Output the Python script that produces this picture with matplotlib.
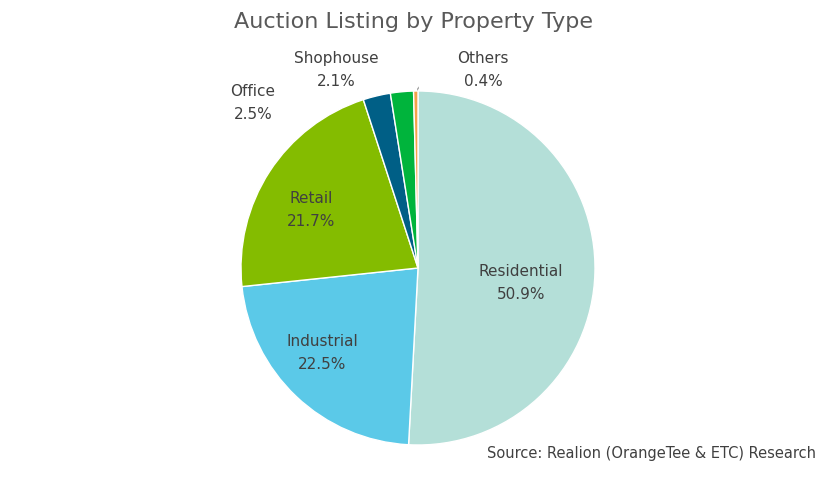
import matplotlib
matplotlib.use("Agg")
import matplotlib.pyplot as plt

categories = ["Residential", "Industrial", "Retail", "Office", "Shophouse", "Others"]
shares = [50.9, 22.5, 21.7, 2.5, 2.1, 0.4]
colors = ["#b4dfd8", "#5bc9e8", "#84bc00", "#005f86", "#00b43c", "#f4a24a"]

W, H = 836, 486
fig = plt.figure(figsize=(W / 100, H / 100), dpi=100)
ax = fig.add_axes([0, 0, 1, 1])
ax.set_xlim(0, W)
ax.set_ylim(H, 0)
ax.set_aspect("equal")
ax.axis("off")

cx, cy, r = 422, 268, 177
ax.pie(shares, colors=colors, startangle=90, counterclock=False,
       center=(cx, H - cy), radius=r,
       wedgeprops={"edgecolor": "white", "linewidth": 1})
ax.set_ylim(0, H)

def ty(y):
    return H - y

txt = {"color": "#404040", "fontsize": 11, "ha": "center", "va": "center",
       "linespacing": 1.6}
inside = {"Residential": (525, 283), "Industrial": (326, 353), "Retail": (315, 210)}
outside = {"Office": (257, 103), "Shophouse": (340, 70), "Others": (487, 70)}
for name, share in zip(categories, shares):
    pos = inside.get(name) or outside.get(name)
    ax.text(pos[0], ty(pos[1]), f"{name}\n{share}%", **txt)

lc = {"color": "#a6a6a6", "linewidth": 1}
ax.plot([282, 372], [ty(97), ty(97)], **lc)
ax.plot([397, 401, 404], [ty(60), ty(60), ty(90)], **lc)
ax.plot([463, 446, 420], [ty(60), ty(60), ty(91)], **lc)

ax.text(W / 2, ty(22), "Auction Listing by Property Type", ha="center", va="center",
        fontsize=16, color="#595959")
ax.text(820, ty(453), "Source: Realion (OrangeTee & ETC) Research", ha="right",
        va="center", fontsize=10.5, color="#404040")

fig.savefig("out.png", dpi=100)
